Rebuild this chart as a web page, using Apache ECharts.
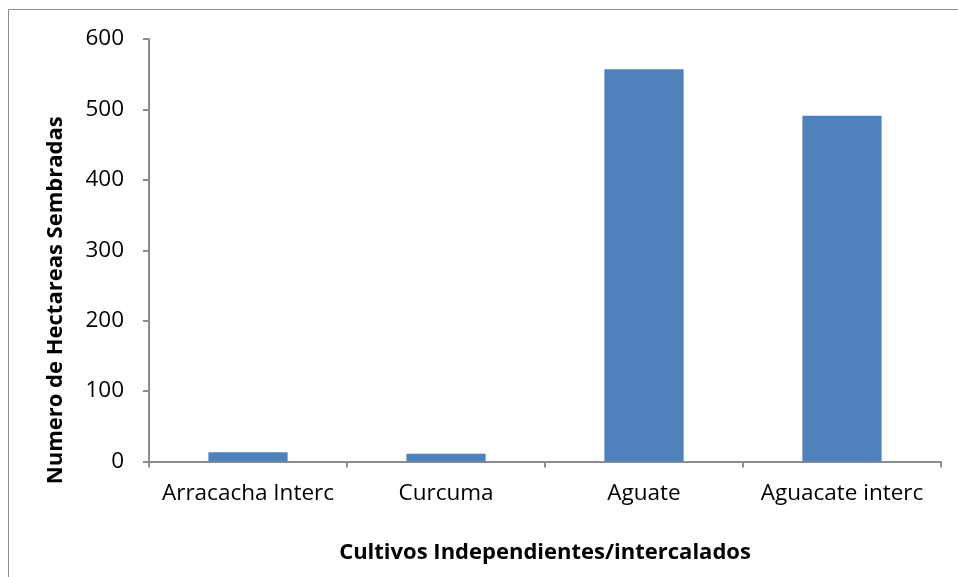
<!DOCTYPE html>
<html><head><meta charset="utf-8">
<script src="https://cdn.jsdelivr.net/npm/echarts@6/dist/echarts.min.js"></script>
<style>html,body{margin:0;padding:0;background:#fff}#c{width:958px;height:577px}</style>
</head><body><div id="c"></div>
<script>
var categories = ['Arracacha Interc', 'Curcuma', 'Aguate', 'Aguacate interc'];
var hectareas = [13, 11, 557, 491];
var yTitle = 'Numero de Hectareas Sembradas';
var xTitle = 'Cultivos Independientes/intercalados';

var chart = echarts.init(document.getElementById('c'), null, {renderer: 'canvas'});
var font = '"Open Sans", "Noto Sans", sans-serif';
chart.setOption({
  animation: false,
  backgroundColor: '#fff',
  graphic: [{type: 'rect', shape: {x: 8.5, y: 9.5, width: 1000, height: 1000}, style: {fill: 'none', stroke: '#8c8c8c', lineWidth: 1}, silent: true}],
  grid: {left: 149, right: 17, top: 39, bottom: 115.5},
  xAxis: {
    type: 'category', data: categories,
    axisLine: {lineStyle: {color: '#8c8c8c', width: 2}},
    axisTick: {show: true, length: 6, lineStyle: {color: '#8c8c8c', width: 2}},
    axisLabel: {color: '#000', fontSize: 22.5, fontFamily: font, margin: 21, interval: 0, hideOverlap: false},
    name: xTitle, nameLocation: 'middle', nameGap: 80,
    nameTextStyle: {color: '#000', fontSize: 22, fontWeight: 'bold', fontFamily: font}
  },
  yAxis: {
    type: 'value', min: 0, max: 600, interval: 100,
    axisLine: {show: true, lineStyle: {color: '#8c8c8c', width: 2}},
    axisTick: {show: true, length: 6, lineStyle: {color: '#8c8c8c', width: 2}},
    splitLine: {show: false},
    axisLabel: {color: '#000', fontSize: 22.5, fontFamily: font, margin: 25},
    name: yTitle, nameLocation: 'middle', nameGap: 82, nameRotate: 90,
    nameTextStyle: {color: '#000', fontSize: 22, fontWeight: 'bold', fontFamily: font, padding: [0, 100, 0, 0]}
  },
  series: [{
    type: 'bar', data: hectareas, barWidth: '40%',
    itemStyle: {color: '#4f81bd'}
  }]
});
</script></body></html>
